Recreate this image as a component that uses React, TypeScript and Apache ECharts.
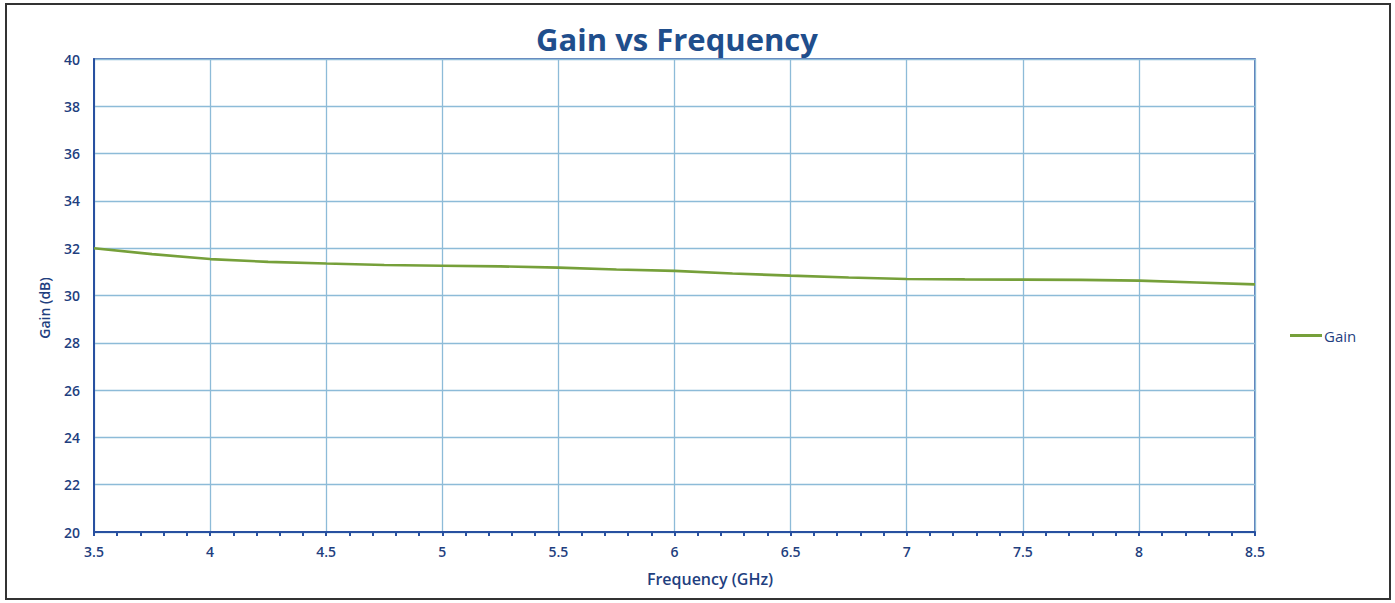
import React, { useEffect, useRef } from "react";
import * as echarts from "echarts";

const frequency = [3.5, 3.75, 4.0, 4.25, 4.5, 4.75, 5.0, 5.25, 5.5, 5.75, 6.0, 6.25, 6.5, 6.75, 7.0, 7.25, 7.5, 7.75, 8.0, 8.25, 8.5];
const gain = [32.0, 31.75, 31.54, 31.42, 31.35, 31.29, 31.26, 31.23, 31.18, 31.1, 31.04, 30.93, 30.84, 30.76, 30.7, 30.68, 30.67, 30.66, 30.63, 30.55, 30.47];
const seriesName = "Gain";
const titleText = "Gain vs Frequency";
const xAxisTitle = "Frequency (GHz)";
const yAxisTitle = "Gain (dB)";

const textBlue = "#1f3f7f";
const font = "'Open Sans', 'Liberation Sans', sans-serif";

export default function App() {
  const ref = useRef<HTMLDivElement>(null);
  useEffect(() => {
    if (!ref.current) return;
    const chart = echarts.init(ref.current, null, { renderer: "svg" });
    chart.setOption({
      animation: false,
      backgroundColor: "#ffffff",
      textStyle: { fontFamily: font },
      title: {
        text: titleText,
        left: 672,
        textAlign: "center",
        top: 18,
        textStyle: { fontSize: 31, fontWeight: "bold", color: "#1f4e8c", fontFamily: font },
      },
      legend: {
        left: 1285,
        top: 323,
        itemWidth: 32,
        itemHeight: 3,
        itemGap: 4,
        data: [{ name: seriesName, icon: "rect" }],
        textStyle: { color: textBlue, fontSize: 15, fontFamily: font, padding: [0, 0, 0, -3] },
      },
      grid: {
        left: 94,
        top: 59,
        width: 1161,
        height: 473,
        show: true,
        borderColor: "#2850a0",
        borderWidth: 1.5,
        containLabel: false,
      },
      xAxis: {
        type: "value",
        min: 3.5,
        max: 8.5,
        interval: 0.5,
        axisLine: { show: true, lineStyle: { color: "#2850a0", width: 2 } },
        axisTick: { show: true, length: 4, lineStyle: { color: "#2850a0", width: 2 } },
        minorTick: { show: true, splitNumber: 5, length: 4, lineStyle: { color: "#2850a0", width: 2 } },
        axisLabel: { color: textBlue, fontSize: 14, fontWeight: 600, margin: 12, fontFamily: font },
        splitLine: { show: true, lineStyle: { color: "#8dbbd8", width: 1.3 } },
      },
      yAxis: {
        type: "value",
        min: 20,
        max: 40,
        interval: 2,
        axisLine: { show: true, lineStyle: { color: "#2850a0", width: 2 } },
        axisTick: { show: false },
        axisLabel: { color: textBlue, fontSize: 14, fontWeight: 600, margin: 14, fontFamily: font },
        splitLine: { show: true, lineStyle: { color: "#8dbbd8", width: 1.3 } },
      },
      series: [
        {
          name: seriesName,
          type: "line",
          data: frequency.map((f, i) => [f, gain[i]]),
          showSymbol: false,
          symbol: "none",
          lineStyle: { color: "#76a03a", width: 2.6 },
          itemStyle: { color: "#76a03a" },
        },
      ],
      graphic: [
        {
          type: "rect",
          shape: { x: 6, y: 4, width: 1384, height: 595 },
          style: { fill: "none", stroke: "#333333", lineWidth: 2 },
          silent: true,
          z: 100,
        },
        {
          type: "text",
          x: 710,
          y: 579,
          style: {
            text: xAxisTitle,
            fill: textBlue,
            font: `600 16px ${font}`,
            align: "center",
            verticalAlign: "middle",
          },
        },
        {
          type: "text",
          x: 44,
          y: 308,
          rotation: Math.PI / 2,
          style: {
            text: yAxisTitle,
            fill: textBlue,
            font: `600 14px ${font}`,
            align: "center",
            verticalAlign: "middle",
          },
        },
      ],
    });
    return () => chart.dispose();
  }, []);
  return (
    <div
      ref={ref}
      style={{ position: "fixed", left: 0, top: 0, width: 1395, height: 603, background: "#fff" }}
    />
  );
}
